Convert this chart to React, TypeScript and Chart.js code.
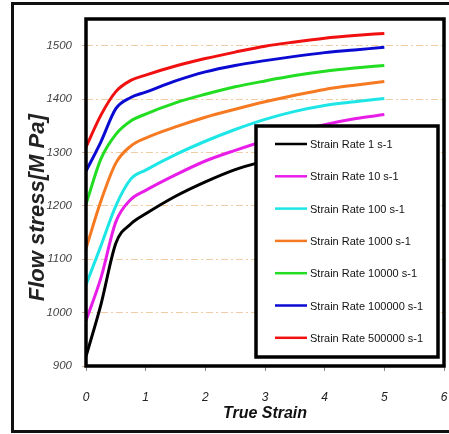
import React, { useEffect, useRef } from "react";
import { Chart, registerables } from "chart.js";

Chart.register(...registerables);

const strain = [0, 0.25, 0.5, 0.75, 1, 1.5, 2, 2.5, 3, 3.5, 4, 4.5, 5];

const rate1 = [918, 1015, 1130, 1166, 1185, 1218, 1245, 1268, 1284, 1298, 1310, 1320, 1330];
const rate10 = [985, 1065, 1170, 1212, 1229, 1258, 1284, 1304, 1322, 1338, 1352, 1363, 1371];
const rate100 = [1052, 1125, 1200, 1250, 1267, 1296, 1321, 1343, 1362, 1377, 1388, 1395, 1401];
const rate1000 = [1120, 1209, 1280, 1312, 1327, 1348, 1366, 1381, 1395, 1407, 1418, 1426, 1433];
const rate10000 = [1203, 1288, 1334, 1359, 1372, 1393, 1409, 1423, 1434, 1444, 1452, 1458, 1463];
const rate100000 = [1265, 1320, 1382, 1403, 1413, 1434, 1451, 1463, 1472, 1480, 1487, 1492, 1497];
const rate500000 = [1310, 1370, 1414, 1435, 1445, 1462, 1476, 1488, 1499, 1507, 1514, 1519, 1523];

const seriesLabels = [
  "Strain Rate 1 s-1",
  "Strain Rate 10 s-1",
  "Strain Rate 100 s-1",
  "Strain Rate 1000 s-1",
  "Strain Rate 10000 s-1",
  "Strain Rate 100000 s-1",
  "Strain Rate 500000 s-1",
];
const seriesValues = [rate1, rate10, rate100, rate1000, rate10000, rate100000, rate500000];
const seriesColors = ["#000000", "#e81ee8", "#1ee6e6", "#f57a22", "#22dd22", "#0a0ad2", "#f01010"];

const yTitle = "Flow stress[M Pa]";
const xTitle = "True Strain";

const plotBorder = {
  id: "plotBorder",
  afterDatasetsDraw(chart: any) {
    const { ctx, chartArea } = chart;
    ctx.save();
    ctx.strokeStyle = "#000";
    ctx.lineWidth = 3.5;
    ctx.strokeRect(chartArea.left, chartArea.top, chartArea.right - chartArea.left, chartArea.bottom - chartArea.top);
    ctx.restore();
  },
};

const boxLegend = {
  id: "boxLegend",
  afterDraw(chart: any) {
    const { ctx, chartArea } = chart;
    const left = chartArea.left + 170;
    const top = chartArea.top + 107;
    const w = 182;
    const h = 231;
    ctx.save();
    ctx.fillStyle = "#fff";
    ctx.fillRect(left, top, w, h);
    ctx.strokeStyle = "#000";
    ctx.lineWidth = 3.5;
    ctx.strokeRect(left, top, w, h);
    ctx.font = '11px Arial, "Liberation Sans", sans-serif';
    ctx.textBaseline = "middle";
    ctx.textAlign = "left";
    chart.data.datasets.forEach((ds: any, i: number) => {
      const y = top + 18 + i * 32.3;
      ctx.strokeStyle = ds.borderColor;
      ctx.lineWidth = 2.5;
      ctx.beginPath();
      ctx.moveTo(left + 19, y);
      ctx.lineTo(left + 51, y);
      ctx.stroke();
      ctx.fillStyle = "#111";
      ctx.fillText(ds.label, left + 54, y + 1);
    });
    ctx.restore();
  },
};

export default function App() {
  const ref = useRef<HTMLCanvasElement>(null);
  useEffect(() => {
    if (!ref.current) return;
    const chart = new Chart(ref.current, {
      type: "line",
      data: {
        datasets: seriesLabels.map((label, i) => ({
          label,
          data: strain.map((x, j) => ({ x, y: seriesValues[i][j] })),
          borderColor: seriesColors[i],
          backgroundColor: seriesColors[i],
          borderWidth: 3,
          pointRadius: 0,
          cubicInterpolationMode: "monotone" as const,
          fill: false,
        })),
      },
      options: {
        animation: false,
        responsive: false,
        maintainAspectRatio: false,
        layout: { padding: { top: 19, right: 5, left: 0, bottom: 0 } },
        plugins: { legend: { display: false }, tooltip: { enabled: false } },
        scales: {
          x: {
            type: "linear",
            min: 0,
            max: 6,
            ticks: {
              stepSize: 1,
              padding: 19,
              color: "#222",
              font: { family: "Arial, 'Liberation Sans', sans-serif", size: 12, style: "italic" },
            },
            grid: { drawOnChartArea: false, drawTicks: true, tickLength: 5, tickColor: "#888" },
            border: { display: false },
            title: {
              display: true,
              text: xTitle,
              color: "#111",
              padding: { top: 0, bottom: 10.4 },
              font: { family: "Arial, 'Liberation Sans', sans-serif", size: 16, style: "italic", weight: "bold" },
            },
            afterFit(scale: any) {
              scale.height = 68;
              scale.paddingLeft = 3;
              scale.paddingRight = 3;
            },
          },
          y: {
            type: "linear",
            min: 900,
            max: 1550,
            afterBuildTicks(scale: any) {
              scale.ticks = scale.ticks.filter((t: any) => t.value % 100 === 0);
            },
            ticks: {
              stepSize: 100,
              padding: 10,
              color: "#444",
              callback: (v: any) => String(v),
              font: { family: "Arial, 'Liberation Sans', sans-serif", size: 11.5, style: "italic" },
            },
            grid: {
              color: "rgba(230,170,100,0.6)",
              lineWidth: 1,
              drawTicks: true,
              tickLength: 4,
              tickColor: "rgba(200,160,120,0.8)",
            },
            border: { display: false, dash: [7, 3, 2, 3] },
            title: {
              display: true,
              text: yTitle + "     ",
              color: "#222",
              padding: { top: 25, bottom: 0 },
              font: { family: "Arial, 'Liberation Sans', sans-serif", size: 22, style: "italic", weight: "bold" },
            },
            afterFit(scale: any) {
              scale.width = 86;
              scale.paddingTop = 3;
              scale.paddingBottom = 3;
            },
          },
        },
      },
      plugins: [plotBorder, boxLegend],
    });
    return () => chart.destroy();
  }, []);

  return (
    <div style={{ position: "fixed", left: 0, top: 0, width: 449, height: 434, overflow: "hidden", background: "#fff" }}>
      <canvas ref={ref} width={449} height={434} style={{ position: "absolute", left: 0, top: 0, width: 449, height: 434 }} />
      <div
        style={{
          position: "absolute",
          left: 11,
          top: 2,
          width: 460,
          height: 431,
          boxSizing: "border-box",
          border: "3px solid #111",
          pointerEvents: "none",
        }}
      />
    </div>
  );
}
